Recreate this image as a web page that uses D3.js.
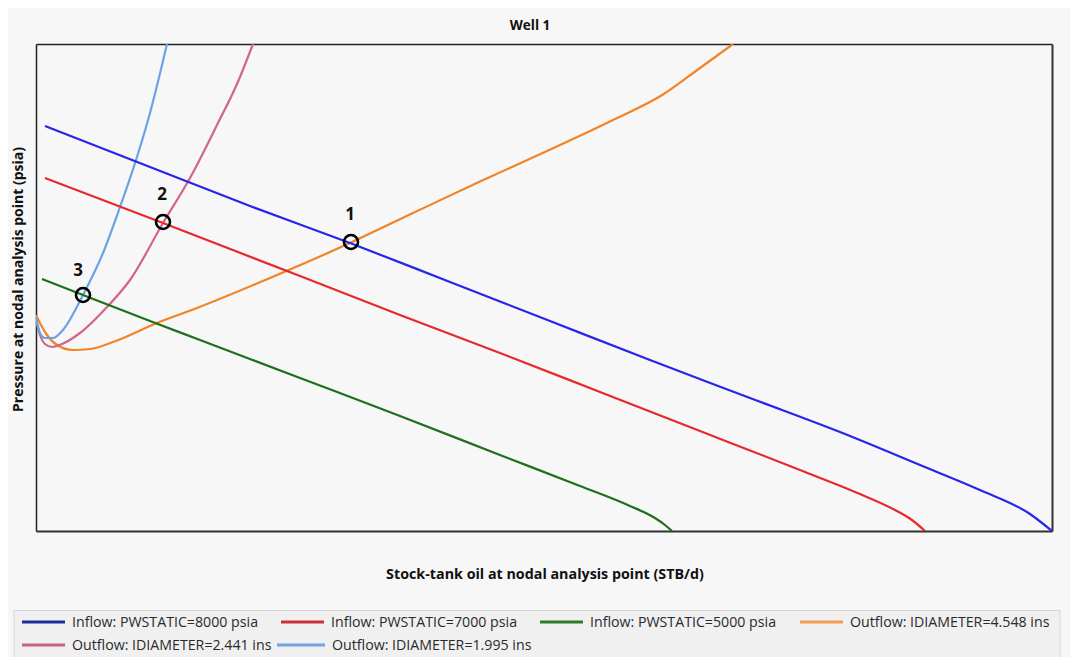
<!DOCTYPE html>
<html>
<head>
<meta charset="utf-8">
<script src="https://cdn.jsdelivr.net/npm/d3@7"></script>
<style>
  html, body { margin: 0; padding: 0; background: #ffffff; }
  svg { display: block; }
</style>
</head>
<body>
<svg id="chart" width="1070" height="657"></svg>
<script>
// ---- Data (STB/d, psia) ----
const seriesNames = [
  "Inflow: PWSTATIC=8000 psia",
  "Inflow: PWSTATIC=7000 psia",
  "Inflow: PWSTATIC=5000 psia",
  "Outflow: IDIAMETER=4.548 ins",
  "Outflow: IDIAMETER=2.441 ins",
  "Outflow: IDIAMETER=1.995 ins"
];
const seriesColors = ["#2626e8", "#e42a2c", "#1f6f1f", "#f28326", "#d2658a", "#6aa2e6"];
const legendColors = ["#1f2a9a", "#cc2f36", "#2a7d2a", "#f39a4e", "#c8637e", "#6fa6e2"];

const inflow8000 = [[90,8100],[1140,7280],[2140,6500],[3140,5760],[4140,4980],[5140,4200],[6140,3420],[7140,2660],[8140,1900],[8840,1320],[9440,820],[9940,340],[10160,0]];
const inflow7000 = [[90,7060],[1270,6160],[2640,5100],[3640,4320],[4640,3560],[5640,2780],[6640,2000],[7640,1220],[8240,740],[8590,420],[8760,220],[8890,0]];
const inflow5000 = [[60,5040],[470,4720],[1140,4200],[1640,3820],[2640,3060],[3640,2300],[4640,1520],[5440,900],[5940,500],[6190,260],[6290,120],[6360,0]];
const outflow4548 = [[0,4320],[50,4120],[110,3920],[210,3720],[370,3620],[540,3640],[770,3780],[1210,4160],[1610,4460],[2340,5060],[2940,5580],[3160,5780],[3770,6360],[4440,6990],[5110,7600],[5770,8220],[6270,8730],[6640,9260],[6970,9740]];
const outflow2441 = [[0,4220],[40,3920],[90,3740],[160,3680],[260,3740],[440,3960],[710,4480],[940,5020],[1270,6160],[1540,7060],[1810,8120],[2010,8940],[2170,9740]];
const outflow1995 = [[0,4280],[40,3960],[90,3860],[170,3860],[270,4020],[470,4720],[670,5560],[840,6480],[1010,7480],[1140,8360],[1310,9740]];

const seriesData = [inflow8000, inflow7000, inflow5000, outflow4548, outflow2441, outflow1995];

const opPoints = [[3150,5780],[1270,6180],[470,4720]];
const opLabels = ["1","2","3"];

const xDomain = [0, 10160];
const yDomain = [0, 9740];

// ---- Layout ----
const W = 1070, H = 657;
const plot = {left: 36, top: 44, right: 1052, bottom: 531};
const FONT = "'Open Sans', sans-serif";

const svg = d3.select("#chart");

// panel background
svg.append("rect").attr("x", 8).attr("y", 8).attr("width", W - 8).attr("height", H - 8).attr("fill", "#f7f7f7");

const x = d3.scaleLinear().domain(xDomain).range([plot.left, plot.right]);
const y = d3.scaleLinear().domain(yDomain).range([plot.bottom, plot.top]);

// clip
svg.append("clipPath").attr("id", "clip").append("rect")
  .attr("x", plot.left).attr("y", plot.top)
  .attr("width", plot.right - plot.left).attr("height", plot.bottom - plot.top);

// axes (no ticks shown)
svg.append("g").attr("transform", `translate(0,${plot.bottom})`)
  .call(d3.axisBottom(x).tickValues([]).tickSizeOuter(0))
  .call(g => g.select(".domain").attr("stroke", "#333").attr("stroke-width", 2));
svg.append("g").attr("transform", `translate(${plot.left},0)`)
  .call(d3.axisLeft(y).tickValues([]).tickSizeOuter(0))
  .call(g => g.select(".domain").attr("stroke", "#222").attr("stroke-width", 1.5));
svg.append("g").attr("transform", `translate(0,${plot.top})`)
  .call(d3.axisTop(x).tickValues([]).tickSizeOuter(0))
  .call(g => g.select(".domain").attr("stroke", "#222").attr("stroke-width", 1.5));
svg.append("g").attr("transform", `translate(${plot.right},0)`)
  .call(d3.axisRight(y).tickValues([]).tickSizeOuter(0))
  .call(g => g.select(".domain").attr("stroke", "#333").attr("stroke-width", 2));

// lines
const line = d3.line().x(d => x(d[0])).y(d => y(d[1])).curve(d3.curveMonotoneX);
const drawOrder = [3, 4, 5, 2, 1, 0];
svg.append("g").attr("clip-path", "url(#clip)")
  .selectAll("path").data(drawOrder).join("path")
  .attr("d", i => line(seriesData[i]))
  .attr("fill", "none")
  .attr("stroke", i => seriesColors[i])
  .attr("stroke-width", 2.2)
  .attr("stroke-linejoin", "round");

// operating points
const op = svg.append("g");
op.selectAll("circle").data(opPoints).join("circle")
  .attr("cx", d => x(d[0])).attr("cy", d => y(d[1])).attr("r", 7)
  .attr("fill", "none").attr("stroke", "#000").attr("stroke-width", 2.6);
op.selectAll("text").data(opPoints).join("text")
  .attr("x", (d, i) => x(d[0]) + (i === 2 ? -5 : -1))
  .attr("y", (d, i) => y(d[1]) - (i === 2 ? 19 : 22))
  .attr("text-anchor", "middle")
  .attr("font-family", FONT)
  .attr("font-weight", "bold")
  .attr("font-size", 17)
  .attr("fill", "#111")
  .text((d, i) => opLabels[i]);

// title & axis labels
svg.append("text").attr("x", 530).attr("y", 30).attr("text-anchor", "middle")
  .attr("font-family", FONT).attr("font-weight", "bold").attr("font-size", 13.5)
  .attr("fill", "#111").text("Well 1");
svg.append("text").attr("x", 545).attr("y", 579).attr("text-anchor", "middle")
  .attr("font-family", FONT).attr("font-weight", "bold").attr("font-size", 14.3)
  .attr("fill", "#111").text("Stock-tank oil at nodal analysis point (STB/d)");
svg.append("text").attr("transform", `translate(23,${(plot.top + plot.bottom) / 2 - 8}) rotate(-90)`)
  .attr("text-anchor", "middle")
  .attr("font-family", FONT).attr("font-weight", "bold").attr("font-size", 14)
  .attr("fill", "#111").text("Pressure at nodal analysis point (psia)");

// legend
const lg = svg.append("g");
lg.append("rect").attr("x", 14).attr("y", 610.5).attr("width", 1046).attr("height", 50)
  .attr("fill", "#f0f0f0").attr("stroke", "#d6d6d6");
const legendPos = [[22,622],[281,622],[540,622],[800,622],[22,645],[277,645]];
const items = lg.selectAll("g.item").data(seriesNames).join("g").attr("class", "item")
  .attr("transform", (d, i) => `translate(${legendPos[i][0]},${legendPos[i][1]})`);
items.append("line").attr("x1", 0).attr("x2", (d, i) => i === 5 ? 48 : 43).attr("y1", 0).attr("y2", 0)
  .attr("stroke", (d, i) => legendColors[i]).attr("stroke-width", 3);
items.append("text").attr("x", (d, i) => i === 5 ? 55 : 50).attr("y", 5)
  .attr("font-family", FONT).attr("font-size", 14.2)
  .attr("fill", "#2a2a2a").text(d => d);
</script>
</body>
</html>
